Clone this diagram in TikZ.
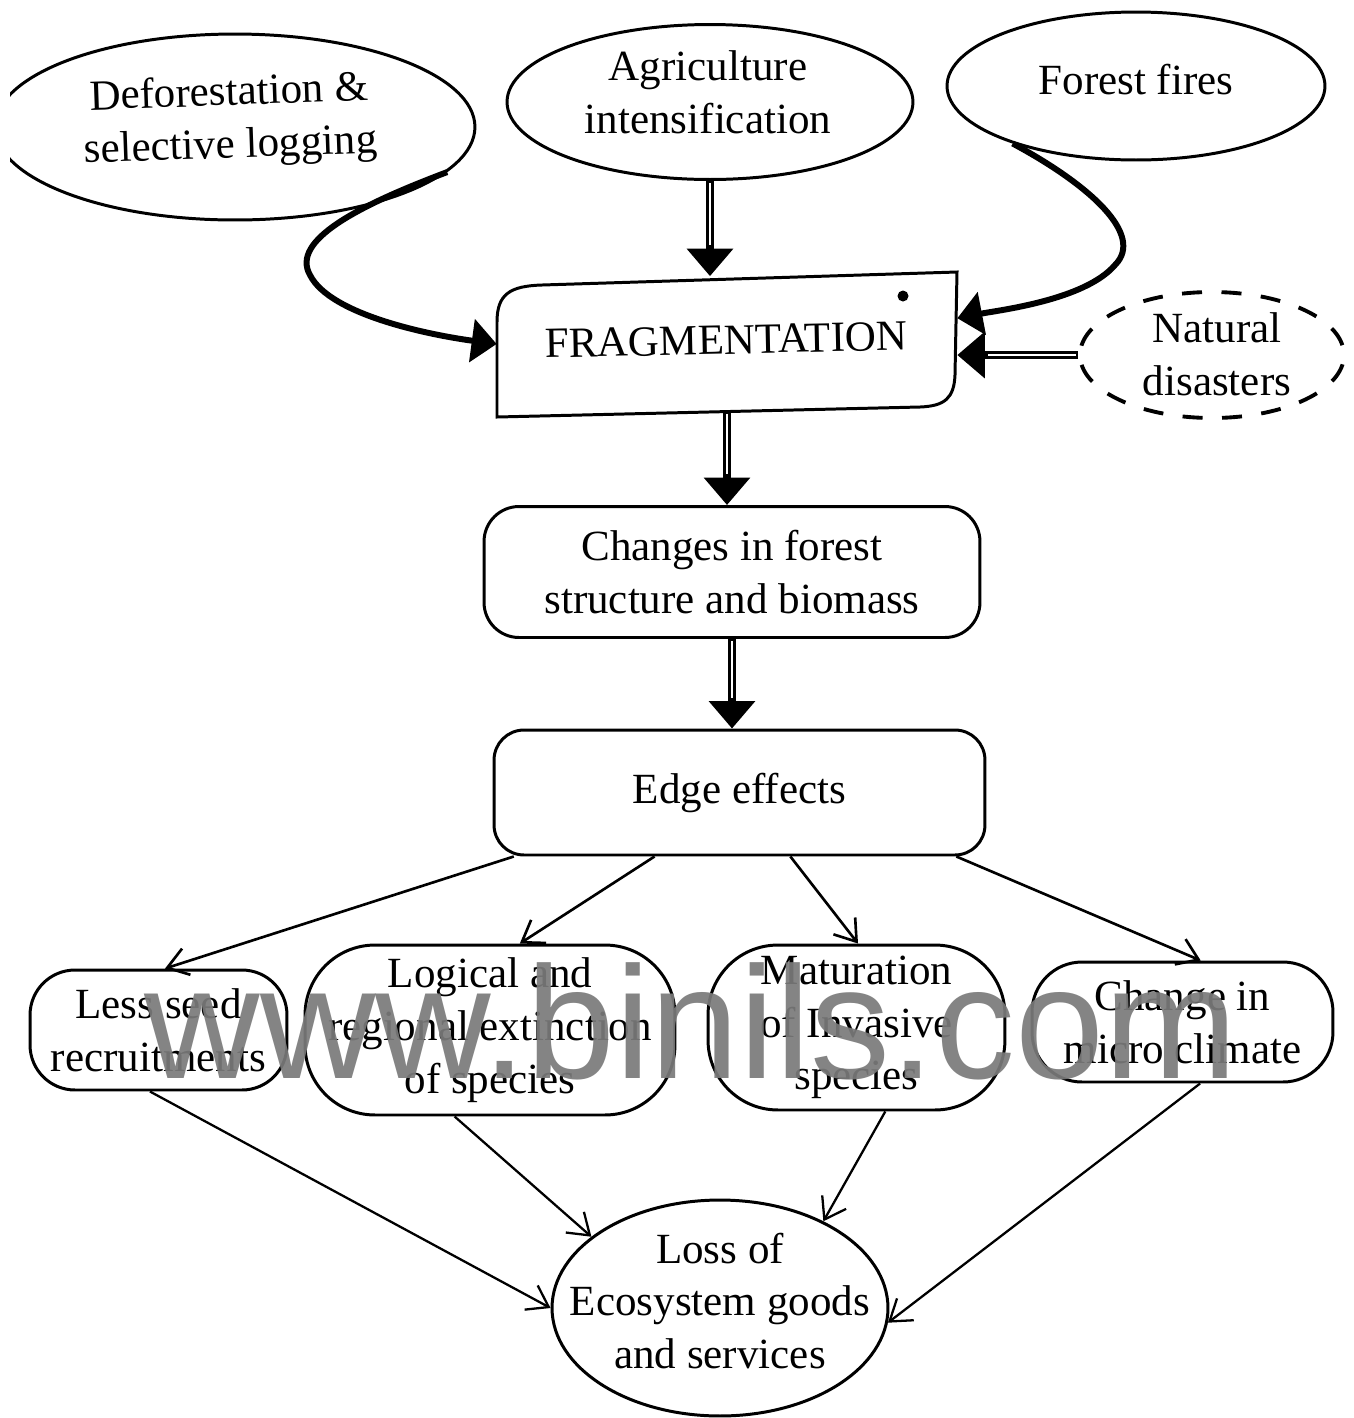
\documentclass[tikz,border=0pt]{standalone}
\usepackage{fontspec}
\setmainfont{Liberation Serif}
\newfontfamily\wmfont{Liberation Sans}
\usetikzlibrary{arrows.meta,shapes.geometric,calc}

% double-line arrow: black shaft with tip, then a white core
\newcommand\dblarrow[2]{%
  \draw[dblout] (#1) -- (#2);
  \draw[dblin] (#1) -- (#2);}

\begin{document}
\begin{tikzpicture}[x=0.02cm,y=-0.02cm,
  txt/.style={font=\fontsize{24.5}{30}\selectfont, align=center, inner sep=0pt},
  oval/.style={ellipse, draw, line width=1.7pt, inner sep=0pt},
  stage/.style={rectangle, draw, line width=1.7pt, align=center, inner sep=0pt,
    font=\fontsize{24.5}{30}\selectfont},
  curvy/.style={line width=3.4pt, -{Triangle[length=5mm,width=8.5mm]}},
  dblout/.style={line width=4.4pt, -{Triangle[length=5.5mm,width=9mm]}},
  dblin/.style={white, line width=1.5pt, shorten >=6.2mm, shorten <=1.2pt},
  thinarrow/.style={line width=1.5pt, -{Straight Barb[length=4mm,width=5.5mm]}},
]
\fill[white] (0,0) rectangle (1354,1418);
\useasboundingbox (0,0) rectangle (1354,1418);

% ---- causes ----
\begin{scope}
  \clip (10,0) rectangle (600,300);
  \node[oval, minimum width=9.6cm, minimum height=3.72cm] (defo) at (235,127) {};
\end{scope}
\node[txt, rotate=2] (defotext) at (230,121) {Deforestation \&\\selective logging};

\node[oval, minimum width=8.12cm, minimum height=3.1cm] (agri) at (710,102) {};
\node[txt] (agritext) at (708,92) {Agriculture\\intensification};

\node[oval, minimum width=7.56cm, minimum height=2.96cm] (ff) at (1136,86) {};
\node[txt] (fftext) at (1136,80) {Forest fires};

\node[oval, dash pattern=on 4mm off 3.9mm, dash phase=5.9mm, line width=2.2pt,
  minimum width=5.28cm, minimum height=2.52cm] (nat) at (1212,355) {};
\node[txt] (nattext) at (1217,354) {Natural\\disasters};

% ---- fragmentation ----
\node[txt, minimum width=9.2cm, minimum height=2.7cm] (frag) at (727,344) {};
\draw[line width=1.7pt] (497,417) -- (497,322)
  .. controls (497,294) and (510,286) .. (542,285) -- (957,272) -- (955,375)
  .. controls (954,398) and (945,406) .. (920,407) -- cycle;
\node[txt, rotate=1.2] (fragtext) at (726,340) {FRAGMENTATION};
\fill (903,296) circle (1.1mm);

% ---- chain ----
\node[stage, rounded corners=7mm, minimum width=9.92cm, minimum height=2.62cm] (chg) at (732,572)
  {Changes in forest\\structure and biomass};
\node[stage, rounded corners=6mm, minimum width=9.82cm, minimum height=2.5cm] (edge) at (739.5,792.5)
  {Edge effects};

% ---- effects ----
\node[stage, rounded corners=9mm, minimum width=5.14cm, minimum height=2.4cm] (less) at (158.5,1030)
  {Less seed\\recruitments};
\node[stage, rounded corners=14mm, minimum width=7.4cm, minimum height=3.4cm] (logi) at (490,1030)
  {Logical and\\regional extinction\\of species};
\node[stage, rounded corners=14mm, minimum width=5.94cm, minimum height=3.3cm] (matu) at (856.5,1027.5)
  {Maturation\\of Invasive\\species};
\node[stage, rounded corners=10mm, minimum width=6.02cm, minimum height=2.4cm] (micro) at (1182.5,1022)
  {Change in\\micro climate};

\node[oval, minimum width=6.72cm, minimum height=4.32cm] (loss) at (720,1308) {};
\node[txt] (losstext) at (720,1301) {Loss of\\Ecosystem goods\\and services};

% ---- connectors into fragmentation ----
\coordinate (fragR1) at ($(frag.north east)!0.31!(frag.south east)$);
\draw[curvy] (defo.-12.5) .. controls (360,205) and (290,240) .. (310,275)
  .. controls (330,315) and (430,335) .. (frag.west);
\draw[curvy] (ff.205) .. controls (1090,185) and (1145,235) .. (1115,265)
  .. controls (1085,300) and (1000,310) .. (fragR1);
\dblarrow{agri.south}{agri.south |- frag.north}
\dblarrow{nat.west}{nat.west -| frag.east}

% ---- main chain ----
\dblarrow{frag.south}{frag.south |- chg.north}
\dblarrow{chg.south}{chg.south |- edge.north}

% ---- edge effects fan out ----
\draw[thinarrow] ($(edge.south west)!0.043!(edge.south east)$) -- ($(less.north west)!0.525!(less.north east)$);
\draw[thinarrow] ($(edge.south west)!0.328!(edge.south east)$) -- ($(logi.north west)!0.58!(logi.north east)$);
\draw[thinarrow] ($(edge.south west)!0.603!(edge.south east)$) -- ($(matu.north west)!0.505!(matu.north east)$);
\draw[thinarrow] ($(edge.south west)!0.939!(edge.south east)$) -- ($(micro.north west)!0.56!(micro.north east)$);

% ---- into the final loss ----
\draw[thinarrow, line width=1.3pt] ($(less.south west)!0.467!(less.south east)$) -- (loss.west);
\draw[thinarrow, line width=1.3pt] ($(logi.south west)!0.405!(logi.south east)$) -- (loss.151);
\draw[thinarrow, line width=1.3pt] ($(matu.south west)!0.596!(matu.south east)$) -- (loss.40);
\draw[thinarrow, line width=1.3pt] ($(micro.south west)!0.558!(micro.south east)$) -- (loss.-5);

% ---- site mark ----
\node[anchor=base, text=black!52, opacity=0.92, inner sep=0pt,
  font=\wmfont\fontsize{91}{91}\selectfont] (wm) at (691,1078) {www.binils.com};
\end{tikzpicture}
\end{document}
